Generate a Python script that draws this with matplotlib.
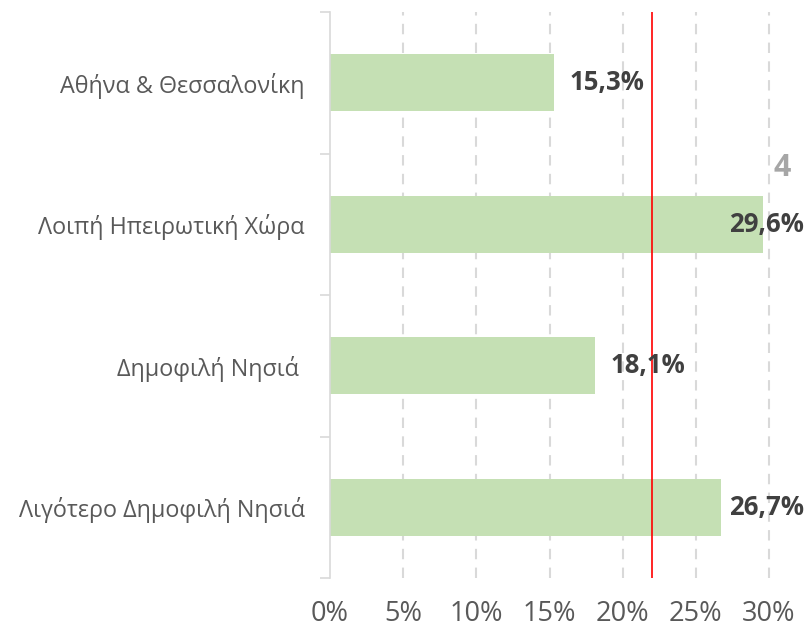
import matplotlib
matplotlib.use('Agg')
import matplotlib.pyplot as plt
import numpy as np

plt.rcParams['font.family'] = ['Open Sans', 'DejaVu Sans']

categories = ['Αθήνα & Θεσσαλονίκη', 'Λοιπή Ηπειρωτική Χώρα', 'Δημοφιλή Νησιά ', 'Λιγότερο Δημοφιλή Νησιά']
values = [15.3, 29.6, 18.1, 26.7]
value_labels = ['15,3%', '29,6%', '18,1%', '26,7%']
x_ticks = [0, 5, 10, 15, 20, 25, 30]
x_tick_labels = ['0%', '5%', '10%', '15%', '20%', '25%', '30%']
reference_line = 22.0

fig = plt.figure(figsize=(8.1, 6.33), dpi=100)
ax = fig.add_axes([330 / 810, 1 - 578 / 633, 480 / 810, 566 / 633])

y = np.arange(len(categories))
ax.barh(y, values, height=0.4, color='#C5E0B4', zorder=2)

xmax = 32.8
ax.set_xlim(0, xmax)
ax.set_ylim(len(categories) - 0.5, -0.5)

# dashed vertical gridlines
for t in x_ticks[1:]:
    ax.axvline(t, color='#D9D9D9', linestyle=(0, (5, 4)), linewidth=1.5, zorder=1)
ax.axvline(reference_line, color='#FF0000', linewidth=1.2, zorder=3)

# value labels, kept inside the plot area like Excel does
label_right = 32.4
for yi, v, lab in zip(y, values, value_labels):
    if v + 1.1 + 5.0 <= label_right:
        ax.text(v + 1.1, yi, lab, ha='left', va='center', fontsize=18.5,
                fontweight='bold', color='#404040', zorder=4)
    else:
        ax.text(label_right, yi, lab, ha='right', va='center', fontsize=18.5,
                fontweight='bold', color='#404040', zorder=4)

ax.set_xticks(x_ticks)
ax.set_xticklabels(x_tick_labels, fontsize=19.5, color='#595959')
ax.tick_params(axis='x', length=0, pad=16)

ax.set_yticks(y)
ax.set_yticklabels(categories, fontsize=16.8, color='#595959')
ax.set_yticks(np.arange(-0.5, len(categories)), minor=True)
ax.tick_params(axis='y', which='major', length=0, pad=18)
ax.tick_params(axis='y', which='minor', length=7, width=1.2, color='#D9D9D9')

for s in ['top', 'right', 'bottom']:
    ax.spines[s].set_visible(False)
ax.spines['left'].set_color('#D9D9D9')
ax.spines['left'].set_linewidth(1.2)

fig.text(791 / 810, 1 - 168 / 633, '4', fontsize=22, fontweight='bold',
         color='#A6A6A6', ha='right', va='center')

fig.savefig('out.png', dpi=100)
